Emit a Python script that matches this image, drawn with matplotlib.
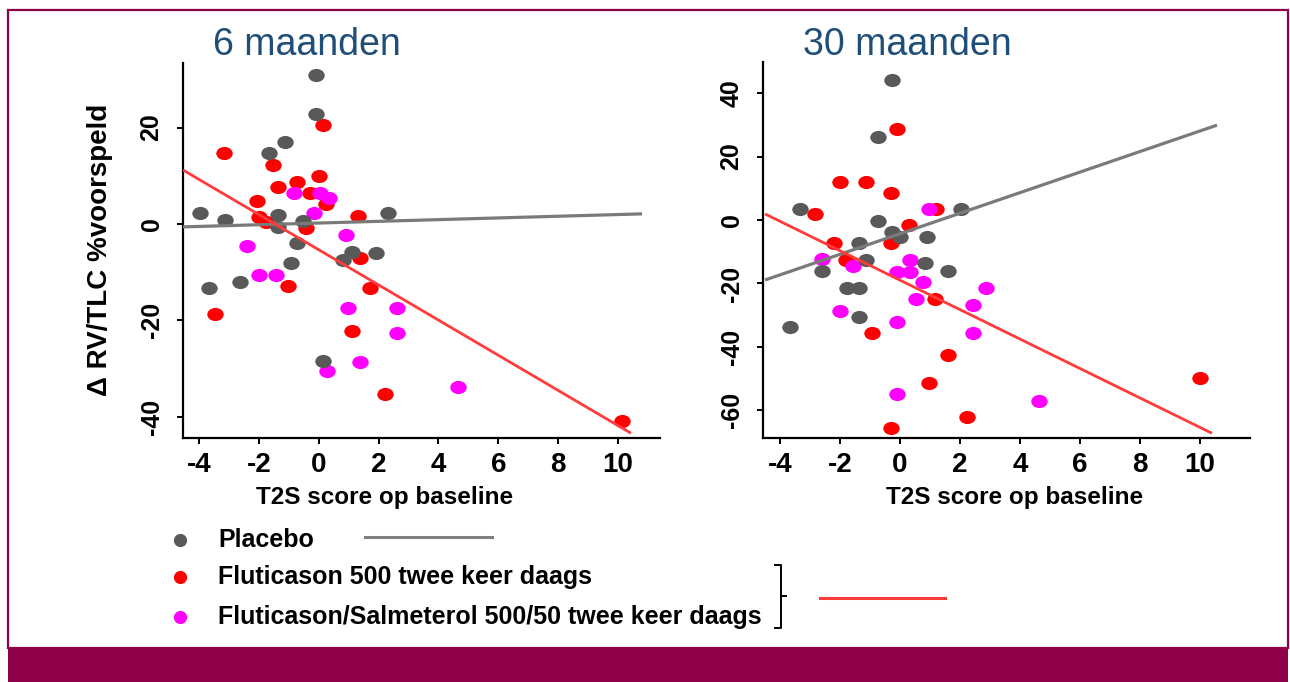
import numpy as np
import matplotlib.pyplot as plt
from matplotlib.patches import Rectangle
from matplotlib.lines import Line2D
from matplotlib.path import Path
from matplotlib.transforms import Affine2D

plt.rcParams['font.family'] = ['Liberation Sans', 'DejaVu Sans']
plt.rcParams['font.weight'] = 'bold'
plt.rcParams['axes.labelweight'] = 'bold'
plt.rcParams['axes.unicode_minus'] = False

W, H = 1290, 682

# 6 maanden
plac6_x = [-0.1, -0.1, -1.13, -1.67, -3.97, -3.13, -1.37, -1.37, -0.53, 2.33,
           -0.73, 1.1, 1.93, 0.8, -0.93, -2.63, -3.67, 0.13]
plac6_y = [30.9, 22.8, 17.0, 14.7, 2.3, 0.8, 1.9, -0.6, 0.6, 2.3,
           -3.9, -5.8, -6.0, -7.5, -8.1, -12.0, -13.3, -28.4]
flu6_x = [0.13, -3.17, -1.53, -0.73, 0.0, -1.37, -2.07, -0.3, 0.23, -2.0,
          -1.77, 1.3, -0.43, 1.37, -1.03, 1.7, -3.47, 1.13, 2.23, 10.13]
flu6_y = [20.5, 14.7, 12.2, 8.7, 10.0, 7.7, 4.8, 6.4, 4.1, 1.5,
          0.4, 1.7, -0.8, -7.1, -12.9, -13.3, -18.7, -22.2, -35.3, -40.9]
sfc6_x = [-0.83, 0.03, 0.33, -0.17, 0.9, -2.4, -2.0, -1.43, 0.97, 2.63,
          2.63, 1.37, 0.27, 4.67]
sfc6_y = [6.4, 6.4, 5.4, 2.3, -2.3, -4.6, -10.6, -10.6, -17.4, -17.4,
          -22.6, -28.6, -30.5, -33.8]

# 30 maanden
plac30_x = [-0.27, -0.73, -3.33, 2.03, -0.73, -0.27, 0.0, 0.9, -1.37, -1.13,
            0.83, -2.6, 1.6, -1.77, -1.37, -1.37, -3.67]
plac30_y = [44.1, 26.2, 3.5, 3.5, -0.3, -3.8, -5.4, -5.4, -7.3, -12.6,
            -13.6, -16.1, -16.1, -21.4, -21.4, -30.6, -33.7]
flu30_x = [-0.1, -2.0, -1.13, -0.3, -2.83, 1.2, 0.3, -2.2, -0.3, -1.8,
           1.17, -0.93, 1.6, 0.97, 2.23, -0.3, 10.0]
flu30_y = [28.7, 12.0, 12.0, 8.5, 1.9, 3.5, -1.6, -7.3, -7.3, -12.6,
           -24.9, -35.7, -42.6, -51.4, -62.1, -65.6, -49.9]
sfc30_x = [0.97, -2.6, -1.57, 0.33, -0.1, 0.33, 0.77, 0.53, 2.87, 2.43,
           2.43, -2.0, -0.1, -0.1, 4.63]
sfc30_y = [3.5, -12.3, -14.5, -12.6, -16.4, -16.4, -19.6, -24.9, -21.4, -26.8,
           -35.7, -28.7, -32.2, -54.9, -57.1]

# regression lines (end points)
fitp6_x, fitp6_y = [-4.53, 10.8], [-0.6, 2.1]
fita6_x, fita6_y = [-4.53, 10.43], [11.2, -43.4]
fitp30_x, fitp30_y = [-4.5, 10.57], [-18.9, 29.9]
fita30_x, fita30_y = [-4.5, 10.4], [1.9, -67.2]

x_ticks = [-4, -2, 0, 2, 4, 6, 8, 10]
c_plac, c_flu, c_sfc = '#595959', '#ff0000', '#ff00ff'
c_line_p, c_line_a = '#7a7a7a', '#ff3b3b'
title_col = '#1f4e79'
maroon = '#8e0047'

# slightly flattened dots like the original
dot = Affine2D().scale(1, 0.8).transform_path(Path.unit_circle())

fig = plt.figure(figsize=(W / 100, H / 100), dpi=100)


def fbox(x0, y0, x1, y1):
    return [x0 / W, 1 - y1 / H, (x1 - x0) / W, (y1 - y0) / H]


def panel(rect, px, py, fx, fy, sx, sy, lp, la, xlim, ylim, yticks, title, tx, xl_pos):
    ax = fig.add_axes(fbox(*rect))
    ax.scatter(fx, fy, s=140, marker=dot, color=c_flu, linewidths=0, zorder=3)
    ax.scatter(sx, sy, s=140, marker=dot, color=c_sfc, linewidths=0, zorder=4)
    ax.scatter(px, py, s=140, marker=dot, color=c_plac, linewidths=0, zorder=5)
    ax.plot(lp[0], lp[1], color=c_line_p, lw=2.3, zorder=6, solid_capstyle='butt')
    ax.plot(la[0], la[1], color=c_line_a, lw=2.0, zorder=6, solid_capstyle='butt')
    ax.set_xlim(*xlim)
    ax.set_ylim(*ylim)
    ax.set_xticks(x_ticks)
    ax.set_yticks(yticks)
    for s in ['top', 'right']:
        ax.spines[s].set_visible(False)
    for s in ['left', 'bottom']:
        ax.spines[s].set_linewidth(1.6)
    ax.tick_params(axis='x', direction='out', length=4, width=1.4, labelsize=20, pad=6)
    ax.tick_params(axis='y', direction='out', length=4, width=1.4, labelsize=18, pad=10,
                   labelrotation=90)
    for lbl in ax.get_yticklabels():
        lbl.set_va('center')
    ax.set_xlabel('T2S score op baseline', fontsize=17.5, fontweight='bold')
    ax.xaxis.set_label_coords(xl_pos, -0.128)
    fig.text(tx / W, 1 - 45 / H, title, fontsize=27, fontweight='normal',
             color=title_col, ha='center', va='center')
    return ax


ax1 = panel((183, 63, 660, 438), plac6_x, plac6_y, flu6_x, flu6_y, sfc6_x, sfc6_y,
            (fitp6_x, fitp6_y), (fita6_x, fita6_y), (-4.53, 11.4), (-44.4, 33.4),
            [-40, -20, 0, 20], '6 maanden', 307, 0.423)
ax2 = panel((763, 62, 1250, 438), plac30_x, plac30_y, flu30_x, flu30_y, sfc30_x, sfc30_y,
            (fitp30_x, fitp30_y), (fita30_x, fita30_y), (-4.57, 11.67), (-68.7, 49.8),
            [-60, -40, -20, 0, 20, 40], '30 maanden', 907, 0.517)

fig.text(100 / W, 1 - 250 / H, '\u0394 RV/TLC %voorspeld', rotation=90, fontsize=20,
         ha='center', va='center')

# legend
leg_names = ['Placebo', 'Fluticason 500 twee keer daags',
             'Fluticason/Salmeterol 500/50 twee keer daags']
leg_cols = [c_plac, c_flu, c_sfc]
leg_y = [540, 577, 617]
for name, col, yy in zip(leg_names, leg_cols, leg_y):
    fig.add_artist(Line2D([180 / W], [1 - yy / H], marker='o', markersize=9.5,
                          color=col, markeredgewidth=0))
    fig.text(218 / W, 1 - yy / H, name, fontsize=18, ha='left', va='center')

fig.add_artist(Line2D([365 / W, 492 / W], [1 - 537 / H] * 2, color='#808080', lw=2.2))
fig.add_artist(Line2D([820 / W, 945 / W], [1 - 598 / H] * 2, color=c_line_a, lw=2.2))
# bracket
bx = [775 / W, 781 / W, 781 / W, 775 / W]
by = [1 - 565 / H, 1 - 565 / H, 1 - 628 / H, 1 - 628 / H]
fig.add_artist(Line2D(bx, by, color='black', lw=1.4))
fig.add_artist(Line2D([781 / W, 786 / W], [1 - 596 / H] * 2, color='black', lw=1.4))

# frame and bottom band
fig.add_artist(Rectangle((8 / W, 1 - 648 / H), 1280 / W, 638 / H, fill=False,
                         edgecolor=maroon, lw=1.6, transform=fig.transFigure))
fig.add_artist(Rectangle((8 / W, 0), 1280 / W, 1 - 648 / H, facecolor=maroon,
                         edgecolor='none', transform=fig.transFigure))

fig.savefig('out.png', dpi=100)
